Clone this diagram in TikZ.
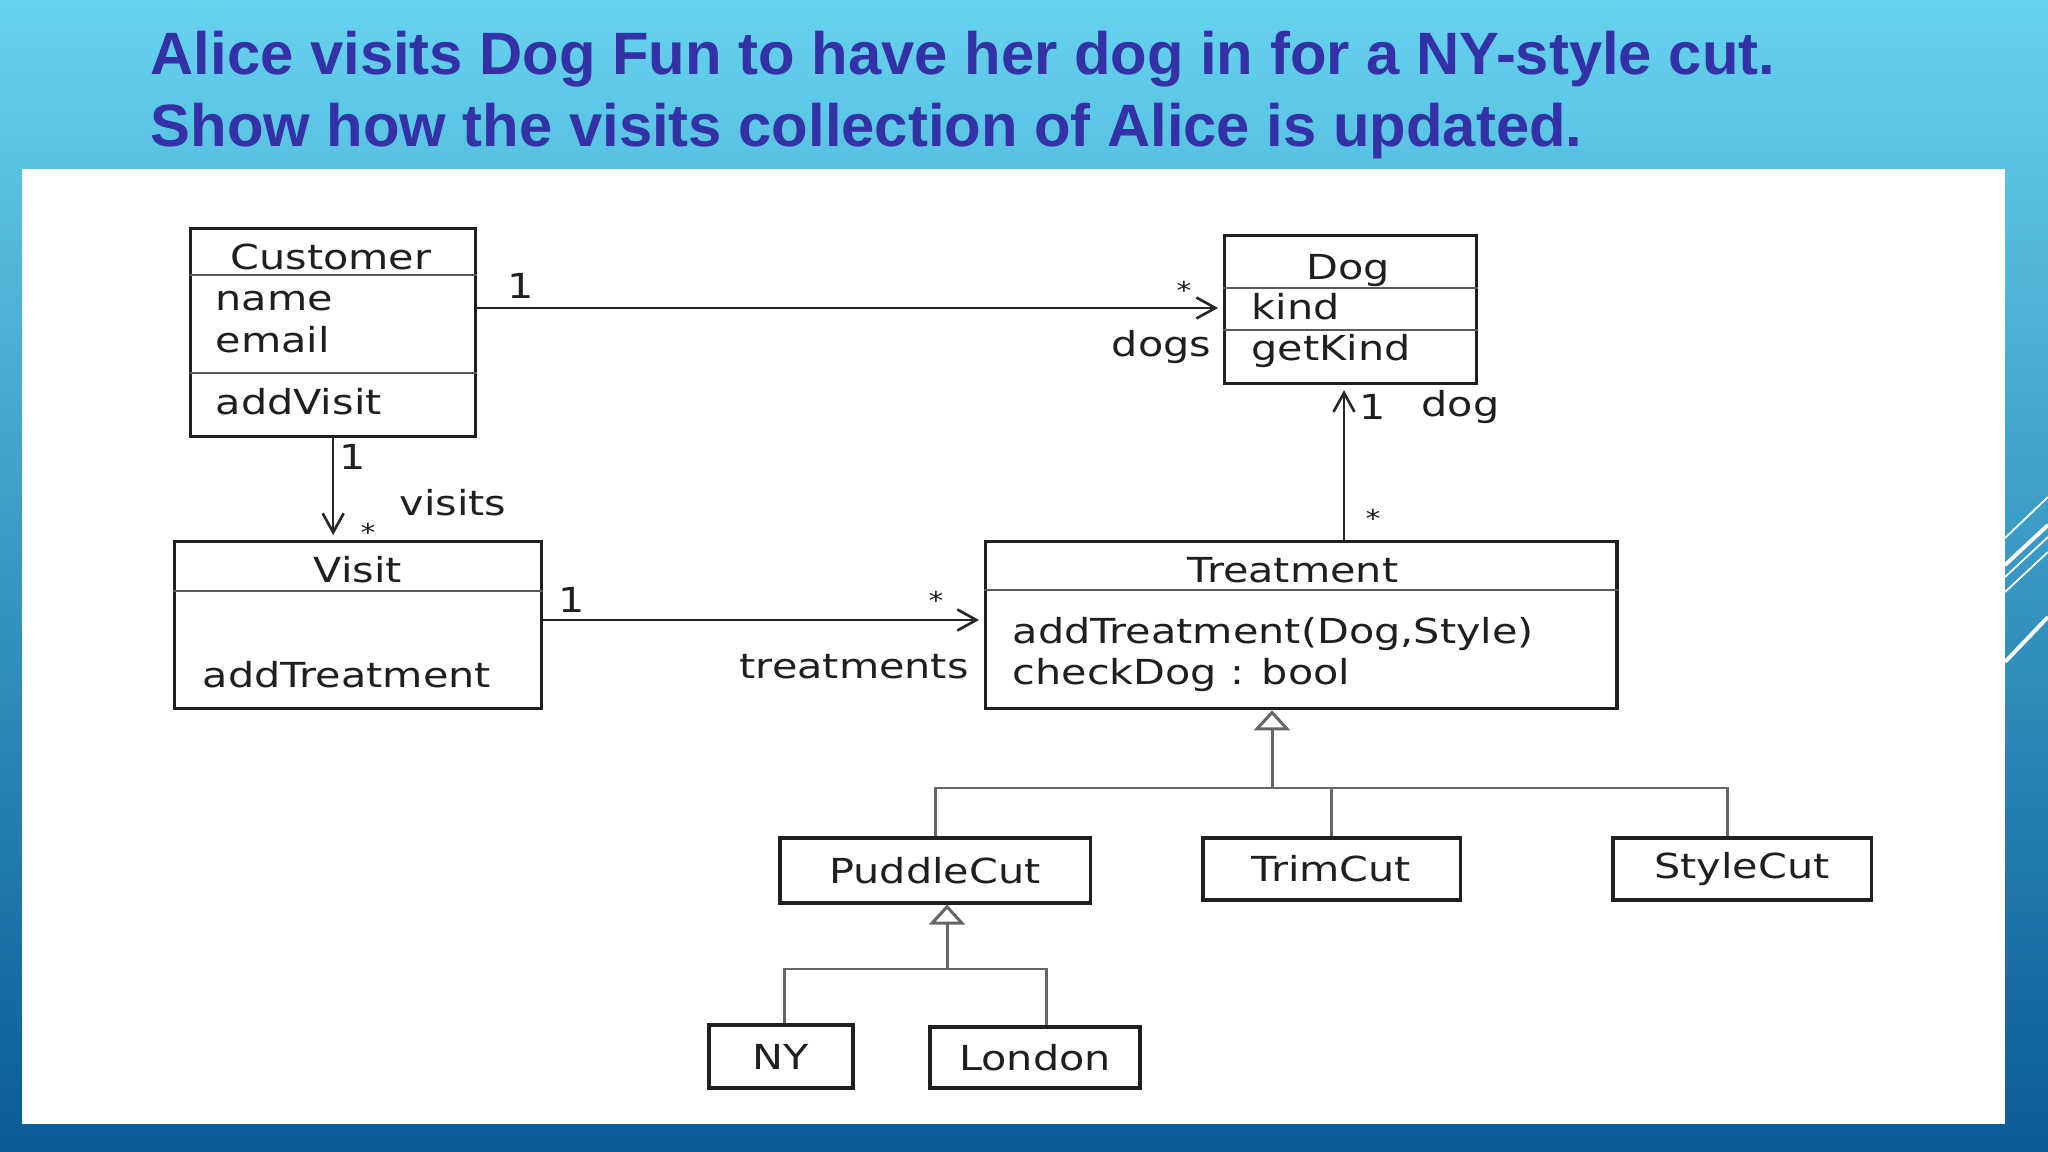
\documentclass[tikz,border=0pt]{standalone}
\usepackage{fontspec}
\newfontfamily\umlfont[FakeStretch=1.2]{DejaVu Sans}
\newfontfamily\titlefont{Liberation Sans}
\newcommand{\umlsize}{\umlfont\fontsize{9.8}{12}\selectfont}
\usetikzlibrary{arrows.meta}
\definecolor{sky}{RGB}{102,211,239}
\definecolor{midsky}{RGB}{58,162,210}
\definecolor{deep}{RGB}{10,90,150}
\definecolor{ink}{RGB}{52,48,165}

\begin{document}
\begin{tikzpicture}[x=0.01cm, y=-0.01cm,
    cls/.style={draw=black!88, line width=0.9pt, anchor=north west, inner sep=0pt},
    leaf/.style={draw=black!88, line width=0.9pt, inner sep=0pt, font=\umlsize, text=black!88},
    div/.style={draw=black!65, line width=0.8pt},
    many/.style={anchor=base, font=\umlfont\fontsize{7}{8}\selectfont},
    assoc/.style={draw=black!85, line width=0.75pt, -{Straight Barb[length=0.19cm, width=0.21cm]}, shorten >=1.4pt},
    genline/.style={draw=black!60, line width=0.85pt},
    inherit/.style={genline, -{Triangle[open, length=0.2cm, width=0.36cm]}}]

      \useasboundingbox (0,0) rectangle (2048,1152);
      \shade[top color=sky, middle color=midsky, bottom color=deep] (0,0) rectangle (2048,1152);

      \begin{scope}[white]
        \draw[line width=0.5pt] (2005,538) -- (2048,497);
        \draw[line width=1.1pt] (2005,565) -- (2048,525);
        \draw[line width=0.5pt] (2005,577) -- (2048,537);
        \draw[line width=0.5pt] (2005,592) -- (2048,552);
        \draw[line width=1.1pt] (2005,662) -- (2048,617);
      \end{scope}
      \fill[white] (22,169) rectangle (2005,1124);

      \begin{scope}[every node/.style={anchor=base west, inner sep=0pt, text=ink,
          font=\titlefont\bfseries\fontsize{17}{20}\selectfont}]
        \node (title1) at (150,75)  {Alice visits Dog Fun to have her dog in for a NY-style cut.};
        \node (title2) at (150,147) {Show how the visits collection of Alice is updated.};
      \end{scope}

      \node[cls, minimum width=2.85cm, minimum height=2.08cm] (cust)  at (189,227)  {};
      \node[cls, minimum width=2.52cm, minimum height=1.48cm] (dog)   at (1223,234) {};
      \node[cls, minimum width=3.67cm, minimum height=1.67cm] (visit) at (173,540)  {};
      \node[cls, minimum width=6.31cm, minimum height=1.67cm] (treat) at (984,540)  {};

      \node[leaf, minimum width=3.10cm, minimum height=0.65cm] (puddle) at (935,870.5)   {PuddleCut};
      \node[leaf, minimum width=2.57cm, minimum height=0.62cm] (trim)   at (1331.5,869)  {TrimCut};
      \node[leaf, minimum width=2.58cm, minimum height=0.62cm] (style)  at (1742,869)    {StyleCut};
      \node[leaf, minimum width=1.44cm, minimum height=0.63cm] (ny)     at (781,1056.5)  {NY};
      \node[leaf, minimum width=2.10cm, minimum height=0.61cm] (london) at (1035,1057.5) {London};

      \draw[div] (cust.west |- 0,275)  -- (cust.east |- 0,275);
      \draw[div] (cust.west |- 0,373)  -- (cust.east |- 0,373);
      \draw[div] (dog.west |- 0,288)   -- (dog.east |- 0,288);
      \draw[div] (dog.west |- 0,330)   -- (dog.east |- 0,330);
      \draw[div] (visit.west |- 0,591) -- (visit.east |- 0,591);
      \draw[div] (treat.west |- 0,590) -- (treat.east |- 0,590);

      \begin{scope}[every node/.style={inner sep=0pt, font=\umlsize, text=black!88}]
        \node[anchor=base] (custtitle)  at (331,270)  {Customer};
        \node[anchor=base] (dogtitle)   at (1348,280) {Dog};
        \node[anchor=base] (visittitle) at (358,583)  {Visit};
        \node[anchor=base] (treattitle) at (1293,583) {Treatment};

        \node[anchor=base west] (name)     at (215,311)  {name};
        \node[anchor=base west] (email)    at (215,353)  {email};
        \node[anchor=base west] (addvisit) at (215,415)  {addVisit};
        \node[anchor=base west] (kind)     at (1251,320) {kind};
        \node[anchor=base west] (getkind)  at (1251,361) {getKind};
        \node[anchor=base west] (addtreat) at (202,687)  {addTreatment};
        \node[anchor=base west] (addtreatds) at (1012,643) {addTreatment(Dog,Style)};
        \node[anchor=base west] (checkdog) at (1012,685) {checkDog : bool};

        \node[anchor=base] (m1) at (521,299)  {1};
        \node[many] (m2) at (1184,299.5) {*};
        \node[anchor=base east] (dogs) at (1212,357) {dogs};
        \node[anchor=base] (m3) at (353,470)  {1};
        \node[many] (m4) at (368,541.5)  {*};
        \node[anchor=base west] (visits) at (399,515) {visits};
        \node[anchor=base] (m5) at (572,613)  {1};
        \node[many] (m6) at (936,609.5)  {*};
        \node[anchor=base west] (treatments) at (739,678) {treatments};
        \node[anchor=base] (m7) at (1373,420) {1};
        \node[anchor=base west] (dogrole) at (1421,417) {dog};
        \node[many] (m8) at (1373,527.5) {*};
      \end{scope}

      \draw[assoc] (cust.east |- 0,308) -- (dog.west |- 0,308);
      \draw[assoc] (cust.south) -- (visit.north -| cust.south);
      \draw[assoc] (visit.east |- 0,620) -- (treat.west |- 0,620);
      \draw[assoc] (treat.north -| 1344,0) -- (dog.south -| 1344,0);

      \coordinate (tbus) at (1272,788);
      \coordinate (pbus) at (947,969);
      \draw[inherit] (tbus) -- (treat.south -| tbus);
      \draw[genline] (puddle.north) |- (tbus) -| (style.north -| 1727,0);
      \draw[genline] (trim.north) -- (trim.north |- tbus);
      \draw[inherit] (pbus) -- (puddle.south -| pbus);
      \draw[genline] (ny.north -| 784,0) |- (pbus) -| (london.north -| 1046,0);

    \end{tikzpicture}
\end{document}
